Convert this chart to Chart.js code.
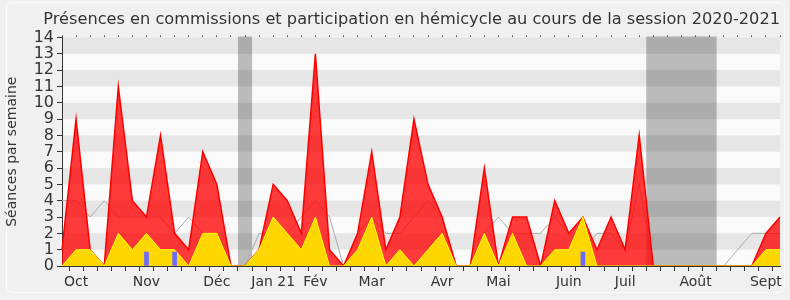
<!DOCTYPE html>
<html>
<head>
<meta charset="utf-8">
<script src="https://cdn.jsdelivr.net/npm/chart.js@4"></script>
<style>
    body{ margin:0; background:#f0f0f0; }
    #box{ position:absolute; left:6px; top:2px; width:777px; height:289px; border:1px solid #fbfbfb; border-radius:6px; }
    #wrap{ position:relative; width:790px; height:300px; }
</style>
</head>
<body>
<div id="box"></div>
<div id="wrap"><canvas id="graph" width="790" height="300"></canvas></div>
<script>

// one entry per week, sept 2020 -> sept 2021
const months = ["", "Oct", "", "", "", "", "Nov", "", "", "", "", "Déc", "", "", "", "Jan 21", "", "", "Fév", "", "", "", "Mar", "", "", "", "", "Avr", "", "", "", "Mai", "", "", "", "", "Juin", "", "", "", "Juil", "", "", "", "", "Août", "", "", "", "", "Sept", ""];

const commissions = [1, 9, 1, 0, 11, 4, 3, 8, 2, 1, 7, 5, 0, 0, 1, 5, 4, 2, 13, 1, 0, 2, 7, 1, 3, 9, 5, 3, 0, 0, 6, 0, 3, 3, 0, 4, 2, 3, 1, 3, 1, 8, 0, 0, 0, 0, 0, 0, 0, 0, 2, 3];

const hemicycle = [0, 1, 1, 0, 2, 1, 2, 1, 1, 0, 2, 2, 0, 0, 1, 3, 2, 1, 3, 0, 0, 1, 3, 0, 1, 0, 1, 2, 0, 0, 2, 0, 2, 0, 0, 1, 1, 3, 0, 0, 0, 0, 0, 0, 0, 0, 0, 0, 0, 0, 1, 1];

const mediane = [4, 4, 3, 4, 3, 3, 3, 3, 2, 3, 2, 2, 0, 0, 2, 2, 2, 3, 4, 3, 0, 2, 3, 2, 2, 3, 4, 3, 0, 0, 2, 3, 2, 2, 2, 3, 2, 1, 2, 2, 1, 5, 0, 0, 0, 0, 0, 0, 1, 2, 2, 2];

const questions = [null, null, null, null, null, null, 0.85, null, 0.85, null, null, null, null, null, null, null, null, null, null, null, null, null, null, null, null, null, null, null, null, null, null, null, null, null, null, null, null, 0.85, null, null, null, null, null, null, null, null, null, null, null, null, null, null];

// vacances parlementaires (en semaines)
const vacances = [[12.5, 13.5], [41.5, 46.5]];

const font = "DejaVu Sans";
const textColor = "#333";

const background = {
    id : "background",
    beforeDraw(chart){
        const {ctx, chartArea, scales} = chart;
        const y = scales.y, x = scales.x;

        ctx.save();
        ctx.fillStyle = "#fafafa";
        ctx.fillRect(chartArea.left, chartArea.top, chartArea.width, chartArea.height);

        ctx.fillStyle = "#e6e6e6";
        for(let v = 1; v < 14; v += 2){
            let top = y.getPixelForValue(v + 1);
            let bottom = y.getPixelForValue(v);
            ctx.fillRect(chartArea.left, top, chartArea.width, bottom - top);
        }

        ctx.fillStyle = "rgba(0,0,0,0.25)";
        vacances.forEach(([a, b]) => {
            let left = x.getPixelForValue(a);
            let right = x.getPixelForValue(b);
            ctx.fillRect(left, chartArea.top - 1, right - left, chartArea.height + 1);
        })
        ctx.restore();
    }
}

let chart = new Chart(document.querySelector("#graph").getContext("2d"), {
    type : "line",
    data : {
        labels : months,
        datasets : [
            {
                type : "bar",
                data : questions,
                backgroundColor : "#6b6bff",
                barThickness : 4,
                order : 0
            },
            {
                data : hemicycle,
                borderColor : "#ffff00",
                borderWidth : 1,
                backgroundColor : "#ffd700",
                fill : "origin",
                order : 1
            },
            {
                data : commissions,
                borderColor : "#ff0000",
                borderWidth : 1.5,
                backgroundColor : "rgba(255,0,0,0.77)",
                fill : "origin",
                order : 2
            },
            {
                data : mediane,
                borderColor : "#aaaaaa",
                borderWidth : 1,
                fill : false,
                order : 3
            }
        ]
    },
    options : {
        responsive : false,
        animation : false,
        elements : {
            point : { radius : 0 },
            line : { tension : 0 }
        },
        layout : {
            padding : { left : 0, right : 10, top : 0, bottom : 0 }
        },
        plugins : {
            legend : { display : false },
            tooltip : { enabled : false },
            title : {
                display : true,
                align : "end",
                text : "Présences en commissions et participation en hémicycle au cours de la session 2020-2021",
                color : textColor,
                font : { family : font, size : 16.2, weight : "normal" },
                padding : { top : 10, bottom : 4 }
            }
        },
        scales : {
            x : {
                type : "category",
                offset : false,
                grid : { drawOnChartArea : false, tickLength : 5, color : textColor },
                border : { color : textColor },
                ticks : {
                    autoSkip : false,
                    maxRotation : 0,
                    color : textColor,
                    padding : 3,
                    font : { family : font, size : 14 }
                },
                afterFit(scale){ scale.height = 34; }
            },
            x2 : {
                type : "category",
                position : "top",
                labels : months,
                offset : false,
                grid : { drawOnChartArea : false, tickLength : 2, color : "#444" },
                border : { display : false },
                ticks : { display : false, autoSkip : false },
                afterFit(scale){ scale.height = 4; }
            },
            y : {
                min : 0,
                max : 14,
                grid : { drawOnChartArea : false, tickLength : 5, color : textColor },
                border : { color : textColor },
                ticks : {
                    stepSize : 1,
                    autoSkip : false,
                    color : textColor,
                    padding : 3,
                    font : { family : font, size : 16 }
                },
                title : {
                    display : true,
                    text : "Séances par semaine",
                    color : textColor,
                    font : { family : font, size : 14 },
                    padding : { top : 4, bottom : 0 }
                },
                afterFit(scale){ scale.width = 62; }
            }
        }
    },
    plugins : [background]
})

</script>
</body>
</html>
